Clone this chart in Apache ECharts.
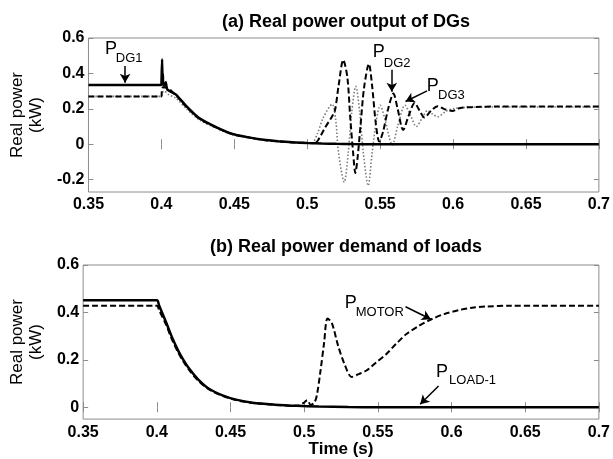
<!DOCTYPE html>
<html>
<head>
<meta charset="utf-8">
<script src="https://cdn.jsdelivr.net/npm/echarts@6/dist/echarts.min.js"></script>
<style>
  html, body { margin: 0; padding: 0; background: #fff; }
  #chart { width: 613px; height: 459px; }
</style>
</head>
<body>
<div id="chart"></div>
<script>
// x ticks (s) and y ticks (kW)
var xTicks = [0.35, 0.4, 0.45, 0.5, 0.55, 0.6, 0.65, 0.7];
var yTicksTop = [-0.2, 0, 0.2, 0.4, 0.6];
var yTicksBottom = [0, 0.2, 0.4, 0.6];

// (a) real power output of DGs  [time, kW]
var pDG1 = [
  [0.35, 0.334], [0.4, 0.334], [0.4003, 0.334], [0.4005, 0.48], [0.4008, 0.34], [0.401, 0.40],
  [0.4013, 0.33], [0.402, 0.33], [0.403, 0.35], [0.404, 0.31], [0.41, 0.28], [0.4166, 0.22],
  [0.4256, 0.15], [0.4368, 0.10], [0.448, 0.06], [0.459, 0.04], [0.47, 0.025], [0.48, 0.017],
  [0.49, 0.011], [0.5, 0.007], [0.51, 0.004], [0.52, 0.002], [0.53, 0.001], [0.55, 0], [0.7, 0]
];
var pDG2 = [
  [0.35, 0.27], [0.4, 0.27], [0.4003, 0.30], [0.401, 0.32], [0.403, 0.32], [0.41, 0.275],
  [0.4166, 0.215], [0.4256, 0.147], [0.4368, 0.098], [0.448, 0.059], [0.459, 0.039], [0.47, 0.024],
  [0.48, 0.016], [0.49, 0.010], [0.5, 0.007], [0.505, 0.005], [0.508, 0.03], [0.512, 0.09],
  [0.5165, 0.15], [0.519, 0.19], [0.5215, 0.33], [0.5247, 0.476], [0.5275, 0.38], [0.5295, 0.15],
  [0.5315, -0.05], [0.533, -0.163], [0.5345, -0.08], [0.5365, 0.10], [0.539, 0.32], [0.5423, 0.454],
  [0.5445, 0.33], [0.547, 0.12], [0.5494, 0.015], [0.552, 0.07], [0.5555, 0.20], [0.5591, 0.286],
  [0.562, 0.20], [0.5658, 0.08], [0.5695, 0.16], [0.5737, 0.233], [0.577, 0.19], [0.5804, 0.151],
  [0.585, 0.19], [0.5894, 0.215], [0.5945, 0.197], [0.5995, 0.188], [0.605, 0.205], [0.615, 0.21],
  [0.63, 0.213], [0.7, 0.213]
];
var pDG3 = [
  [0.35, 0.27], [0.4, 0.27], [0.4005, 0.29], [0.402, 0.30], [0.405, 0.28], [0.41, 0.26],
  [0.4166, 0.205], [0.4256, 0.14], [0.4368, 0.093], [0.448, 0.056], [0.459, 0.037], [0.47, 0.023],
  [0.48, 0.015], [0.49, 0.010], [0.5, 0.006], [0.503, 0.005], [0.507, 0.06], [0.511, 0.15],
  [0.5171, 0.226], [0.5195, 0.14], [0.5215, -0.05], [0.5254, -0.215], [0.528, -0.06], [0.5305, 0.18],
  [0.5333, 0.327], [0.536, 0.18], [0.5385, -0.05], [0.5418, -0.234], [0.5445, -0.05], [0.5475, 0.14],
  [0.5501, 0.22], [0.553, 0.15], [0.5584, -0.004], [0.562, 0.10], [0.567, 0.22], [0.571, 0.16],
  [0.5748, 0.10], [0.579, 0.15], [0.5826, 0.19], [0.586, 0.17], [0.5894, 0.155], [0.595, 0.185],
  [0.6, 0.20], [0.61, 0.208], [0.63, 0.21], [0.7, 0.21]
];

// (b) real power demand of loads  [time, kW]
var pLoad1 = [
  [0.35, 0.451], [0.4, 0.451], [0.4015, 0.43], [0.4065, 0.355], [0.41, 0.30], [0.4144, 0.24],
  [0.418, 0.20], [0.4223, 0.16], [0.428, 0.118], [0.4354, 0.078], [0.445, 0.049], [0.4538, 0.032],
  [0.465, 0.019], [0.48, 0.011], [0.495, 0.006], [0.51, 0.003], [0.53, 0.001], [0.55, 0], [0.7, 0]
];
var pMotor = [
  [0.35, 0.428], [0.4, 0.428], [0.4015, 0.41], [0.4065, 0.345], [0.41, 0.29], [0.4144, 0.232],
  [0.418, 0.193], [0.4223, 0.154], [0.428, 0.113], [0.4354, 0.075], [0.445, 0.047], [0.4538, 0.03],
  [0.465, 0.018], [0.48, 0.01], [0.495, 0.006], [0.5, 0.02], [0.502, 0.03], [0.5045, 0.01],
  [0.507, 0.02], [0.5086, 0.05], [0.511, 0.15], [0.5135, 0.27], [0.5158, 0.374], [0.5187, 0.357],
  [0.523, 0.26], [0.5275, 0.18], [0.5322, 0.128], [0.537, 0.14], [0.5423, 0.155], [0.549, 0.19],
  [0.5558, 0.225], [0.5625, 0.268], [0.5692, 0.308], [0.5775, 0.342], [0.586, 0.37], [0.595, 0.393],
  [0.6051, 0.41], [0.614, 0.42], [0.623, 0.425], [0.64, 0.428], [0.66, 0.428], [0.7, 0.428]
];

var font = "'Liberation Sans', Arial, sans-serif";
var frame = '#8c8c8c';

function xAxisFor(grid, pos, name) {
  return {
    type: 'value', gridIndex: grid, position: pos, min: 0.35, max: 0.7,
    name: name || '', nameLocation: 'middle', nameGap: 19,
    nameTextStyle: { color: '#000', fontFamily: font, fontWeight: 'bold', fontSize: 17 },
    axisLine: { show: false },
    axisTick: { show: true, inside: true, length: 5, customValues: xTicks, lineStyle: { color: frame } },
    axisLabel: {
      show: pos === 'bottom', customValues: xTicks, margin: 5,
      color: '#000', fontFamily: font, fontWeight: 'bold', fontSize: 16,
      formatter: function (v) { return String(+v.toFixed(2)); }
    },
    splitLine: { show: false }
  };
}
function yAxisFor(grid, pos, min, ticks, name) {
  return {
    type: 'value', gridIndex: grid, position: pos, min: min, max: 0.6,
    name: name || '', nameLocation: 'middle', nameGap: 35,
    nameTextStyle: { color: '#000', fontFamily: font, fontSize: 17, lineHeight: 19 },
    axisLine: { show: false },
    axisTick: { show: true, inside: true, length: 5, customValues: ticks, lineStyle: { color: frame } },
    axisLabel: {
      show: pos === 'left', customValues: ticks, margin: 4,
      color: '#000', fontFamily: font, fontWeight: 'bold', fontSize: 16,
      formatter: function (v) { return String(+v.toFixed(2)); }
    },
    splitLine: { show: false }
  };
}

function arrow(a, b) {
  return [{ coord: a }, { coord: b }];
}
function note(text, c, size) {
  return {
    coord: c, value: text,
    label: { show: true, formatter: text, color: '#000', fontFamily: font, fontSize: size }
  };
}
var markLineBase = {
  silent: true, symbol: ['none', 'arrow'], symbolSize: [8, 9],
  label: { show: false },
  lineStyle: { color: '#000', width: 1.5, type: 'solid' }
};
var markPointBase = {
  silent: true, symbol: 'rect', symbolSize: 1,
  itemStyle: { color: 'rgba(0,0,0,0)' }
};

var option = {
  animation: false,
  backgroundColor: '#fff',
  title: [
    { text: '(a) Real power output of DGs', left: 341, textAlign: 'center', top: 8,
      textStyle: { fontFamily: font, fontWeight: 'bold', fontSize: 18, color: '#000' } },
    { text: '(b) Real power demand of loads', left: 341, textAlign: 'center', top: 233,
      textStyle: { fontFamily: font, fontWeight: 'bold', fontSize: 18, color: '#000' } }
  ],
  grid: [
    { left: 81, right: 12, top: 38, height: 154, show: true, borderColor: frame, borderWidth: 1, backgroundColor: '#fff' },
    { left: 81, right: 12, top: 265, height: 156, show: true, borderColor: frame, borderWidth: 1, backgroundColor: '#fff' }
  ],
  xAxis: [
    xAxisFor(0, 'bottom'), xAxisFor(0, 'top'),
    xAxisFor(1, 'bottom', 'Time (s)'), xAxisFor(1, 'top')
  ],
  yAxis: [
    yAxisFor(0, 'left', -0.27, yTicksTop, 'Real power\n(kW)'), yAxisFor(0, 'right', -0.27, yTicksTop),
    yAxisFor(1, 'left', -0.05, yTicksBottom, 'Real power\n(kW)'), yAxisFor(1, 'right', -0.05, yTicksBottom)
  ],
  series: [
    {
      name: 'P_DG3', type: 'line', xAxisIndex: 0, yAxisIndex: 0, data: pDG3,
      showSymbol: false, smooth: 0.3,
      lineStyle: { color: '#7a7a7a', width: 1.6, type: [1.5, 2] }
    },
    {
      name: 'P_DG2', type: 'line', xAxisIndex: 0, yAxisIndex: 0, data: pDG2,
      showSymbol: false, smooth: 0.3,
      lineStyle: { color: '#000', width: 2, type: [6, 3] }
    },
    {
      name: 'P_DG1', type: 'line', xAxisIndex: 0, yAxisIndex: 0, data: pDG1,
      showSymbol: false, smooth: 0.2,
      lineStyle: { color: '#000', width: 2.5, type: 'solid' },
      markLine: Object.assign({}, markLineBase, {
        data: [
          arrow([0.3751, 0.442], [0.3751, 0.347]),
          arrow([0.558, 0.42], [0.558, 0.297]),
          arrow([0.5822, 0.301], [0.5674, 0.241])
        ]
      }),
      markPoint: Object.assign({}, markPointBase, {
        data: [
          note('P', [0.3655, 0.538], 18), note('DG1', [0.3779, 0.482], 13),
          note('P', [0.549, 0.519], 18), note('DG2', [0.5617, 0.455], 13),
          note('P', [0.586, 0.33], 18), note('DG3', [0.5989, 0.274], 13)
        ]
      })
    },
    {
      name: 'P_MOTOR', type: 'line', xAxisIndex: 2, yAxisIndex: 2, data: pMotor,
      showSymbol: false, smooth: 0.3,
      lineStyle: { color: '#000', width: 2, type: [6, 3] }
    },
    {
      name: 'P_LOAD-1', type: 'line', xAxisIndex: 2, yAxisIndex: 2, data: pLoad1,
      showSymbol: false, smooth: 0.3,
      lineStyle: { color: '#000', width: 2.5, type: 'solid' },
      markLine: Object.assign({}, markLineBase, {
        data: [
          arrow([0.5688, 0.424], [0.586, 0.371]),
          arrow([0.5912, 0.09], [0.5787, 0.0125])
        ]
      }),
      markPoint: Object.assign({}, markPointBase, {
        data: [
          note('P', [0.5316, 0.438], 18), note('MOTOR', [0.5513, 0.399], 13),
          note('P', [0.5935, 0.149], 18), note('LOAD-1', [0.6143, 0.1125], 13)
        ]
      })
    }
  ]
};

var chart = echarts.init(document.getElementById('chart'));
chart.setOption(option);
</script>
</body>
</html>
